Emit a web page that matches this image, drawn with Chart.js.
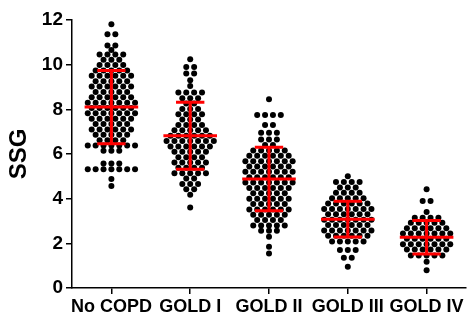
<!DOCTYPE html>
<html>
<head>
<meta charset="utf-8">
<script src="https://cdn.jsdelivr.net/npm/chart.js@4/dist/chart.umd.min.js"></script>
<style>
  html, body { margin: 0; padding: 0; background: #fff; }
</style>
</head>
<body>
<canvas id="c" width="470" height="320"></canvas>
<script>
// Stage groups on the x axis
const groups = ['No COPD', 'GOLD I', 'GOLD II', 'GOLD III', 'GOLD IV'];

// Individual SSG values per stage
const noCopd = [
  11.81,
  11.36, 11.36,
  10.86, 10.86,
  10.66,
  10.46, 10.46, 10.46, 10.46,
  10.22, 10.22, 10.22,
  9.98, 9.98, 9.98, 9.98,
  9.74, 9.74, 9.74, 9.74, 9.74,
  9.5, 9.5, 9.5, 9.5, 9.5, 9.5,
  9.26, 9.26, 9.26, 9.26, 9.26,
  9.02, 9.02, 9.02, 9.02, 9.02, 9.02,
  8.78, 8.78, 8.78, 8.78, 8.78,
  8.54, 8.54, 8.54, 8.54, 8.54, 8.54,
  8.3, 8.3, 8.3, 8.3, 8.3, 8.3, 8.3,
  8.06, 8.06, 8.06, 8.06, 8.06, 8.06,
  7.82, 7.82, 7.82, 7.82, 7.82, 7.82, 7.82,
  7.58, 7.58, 7.58, 7.58, 7.58, 7.58,
  7.34, 7.34, 7.34, 7.34, 7.34,
  7.1, 7.1, 7.1, 7.1, 7.1, 7.1,
  6.86, 6.86, 6.86, 6.86, 6.86,
  6.62, 6.62, 6.62, 6.62,
  6.38, 6.38, 6.38, 6.38, 6.38, 6.38, 6.38,
  6.14, 6.14, 6.14,
  5.58, 5.58, 5.58,
  5.32, 5.32, 5.32, 5.32, 5.32, 5.32, 5.32,
  4.88,
  4.57
];
const goldI = [
  10.24,
  9.9, 9.9,
  9.6, 9.6,
  9.3,
  9.05,
  8.75, 8.75, 8.75, 8.75,
  8.5, 8.5, 8.5,
  8.26, 8.26,
  8.02, 8.02, 8.02,
  7.78, 7.78, 7.78, 7.78,
  7.54, 7.54, 7.54,
  7.3, 7.3, 7.3, 7.3,
  7.06, 7.06, 7.06, 7.06, 7.06,
  6.82, 6.82, 6.82, 6.82, 6.82, 6.82,
  6.58, 6.58, 6.58, 6.58, 6.58, 6.58, 6.58,
  6.34, 6.34, 6.34, 6.34, 6.34, 6.34,
  6.1, 6.1, 6.1, 6.1, 6.1,
  5.86, 5.86, 5.86, 5.86,
  5.62, 5.62, 5.62, 5.62, 5.62,
  5.38, 5.38, 5.38, 5.38,
  5.14, 5.14, 5.14, 5.14, 5.14,
  4.9, 4.9,
  4.66, 4.66, 4.66,
  4.42, 4.42,
  4.18,
  3.6
];
const goldII = [
  8.45,
  7.75, 7.75, 7.75, 7.75,
  7.3, 7.3,
  6.95, 6.95, 6.95,
  6.65, 6.65, 6.65,
  6.4, 6.4,
  6.16, 6.16, 6.16, 6.16, 6.16,
  5.92, 5.92, 5.92, 5.92, 5.92, 5.92,
  5.68, 5.68, 5.68, 5.68, 5.68, 5.68, 5.68,
  5.44, 5.44, 5.44, 5.44, 5.44, 5.44,
  5.2, 5.2, 5.2, 5.2, 5.2, 5.2, 5.2,
  4.96, 4.96, 4.96, 4.96, 4.96, 4.96,
  4.72, 4.72, 4.72, 4.72, 4.72, 4.72, 4.72,
  4.48, 4.48, 4.48, 4.48, 4.48, 4.48,
  4.24, 4.24, 4.24, 4.24, 4.24,
  4.0, 4.0, 4.0, 4.0, 4.0, 4.0,
  3.76, 3.76, 3.76, 3.76, 3.76,
  3.52, 3.52, 3.52, 3.52, 3.52, 3.52,
  3.28, 3.28, 3.28, 3.28, 3.28,
  3.04, 3.04, 3.04, 3.04,
  2.8, 2.8, 2.8, 2.8, 2.8,
  2.56, 2.56, 2.56,
  2.3,
  1.85,
  1.55
];
const goldIII = [
  5.0,
  4.75, 4.75, 4.75, 4.75,
  4.5, 4.5, 4.5,
  4.26, 4.26, 4.26, 4.26,
  4.02, 4.02, 4.02, 4.02, 4.02,
  3.78, 3.78, 3.78, 3.78, 3.78, 3.78,
  3.54, 3.54, 3.54, 3.54, 3.54, 3.54, 3.54,
  3.3, 3.3, 3.3, 3.3, 3.3, 3.3,
  3.06, 3.06, 3.06, 3.06, 3.06, 3.06, 3.06,
  2.82, 2.82, 2.82, 2.82, 2.82, 2.82,
  2.58, 2.58, 2.58, 2.58, 2.58, 2.58, 2.58,
  2.34, 2.34, 2.34, 2.34, 2.34, 2.34,
  2.08, 2.08, 2.08, 2.08, 2.08,
  1.7, 1.7, 1.7,
  1.35, 1.35,
  0.95
];
const goldIV = [
  4.42,
  3.9, 3.9,
  3.4,
  3.15, 3.15, 3.15, 3.15,
  2.92, 2.92, 2.92, 2.92, 2.92,
  2.68, 2.68, 2.68, 2.68, 2.68, 2.68,
  2.44, 2.44, 2.44, 2.44, 2.44, 2.44, 2.44,
  2.2, 2.2, 2.2, 2.2, 2.2, 2.2,
  1.96, 1.96, 1.96, 1.96, 1.96, 1.96, 1.96,
  1.72, 1.72, 1.72, 1.72, 1.72, 1.72,
  1.45, 1.45, 1.45, 1.45, 1.45,
  1.18,
  0.8
];

// Mean and standard deviation per stage
const means = [8.1, 6.82, 4.88, 3.08, 2.27];
const sds = [1.64, 1.5, 1.42, 0.8, 0.75];

// Y axis tick values
const yTicks = [0, 2, 4, 6, 8, 10, 12];

const seriesByGroup = [noCopd, goldI, goldII, goldIII, goldIV];

// Horizontal distance between neighbouring dots with equal values (category units)
const DOT_GAP = 0.1;
const MEAN_HALF = 0.34;
const CAP_HALF = 0.18;

// Spread equal values sideways, centred on the group position
function swarm(values, index) {
  const rows = new Map();
  values.forEach(v => {
    const key = Math.round(v * 100);
    if (!rows.has(key)) rows.set(key, []);
    rows.get(key).push(v);
  });
  const pts = [];
  rows.forEach(row => {
    const n = row.length;
    row.forEach((v, j) => pts.push({ x: index + (j - (n - 1) / 2) * DOT_GAP, y: v }));
  });
  return pts;
}

// Mean line, SD whisker and caps as broken line segments
function errorBars() {
  const gap = { x: null, y: null };
  const pts = [];
  means.forEach((m, i) => {
    const lo = m - sds[i], hi = m + sds[i];
    pts.push({ x: i - MEAN_HALF, y: m }, { x: i + MEAN_HALF, y: m }, gap);
    pts.push({ x: i - CAP_HALF, y: hi }, { x: i + CAP_HALF, y: hi }, gap);
    pts.push({ x: i - CAP_HALF, y: lo }, { x: i + CAP_HALF, y: lo }, gap);
    pts.push({ x: i, y: lo }, { x: i, y: hi }, gap);
  });
  return pts;
}

const dots = [];
seriesByGroup.forEach((vals, i) => dots.push(...swarm(vals, i)));

Chart.defaults.font.family = '"Liberation Sans", Arial, sans-serif';
Chart.defaults.color = '#000';

const axisGrid = {
  display: true,
  drawOnChartArea: false,
  drawTicks: true,
  tickLength: 6,
  color: '#000',
  lineWidth: 1.5
};
const axisBorder = { display: true, color: '#000', width: 1.5 };

new Chart(document.getElementById('c'), {
  type: 'scatter',
  data: {
    datasets: [
      {
        label: 'Mean ± SD',
        data: errorBars(),
        showLine: true,
        spanGaps: false,
        borderColor: '#ff0000',
        borderWidth: 3,
        borderCapStyle: 'butt',
        pointRadius: 0,
        order: 0
      },
      {
        label: 'SSG',
        data: dots,
        pointRadius: 3,
        pointBackgroundColor: '#000',
        pointBorderWidth: 0,
        order: 1
      }
    ]
  },
  options: {
    responsive: false,
    devicePixelRatio: 1,
    animation: false,
    layout: { padding: { top: 20, right: 0, left: 0, bottom: 0 } },
    plugins: { legend: { display: false }, tooltip: { enabled: false } },
    scales: {
      x: {
        type: 'linear',
        min: -0.5,
        max: 4.5,
        afterBuildTicks: s => { s.ticks = groups.map((_, i) => ({ value: i })); },
        afterFit: s => { s.height = 32; },
        ticks: {
          callback: v => groups[v],
          font: { weight: 'bold', size: 18 },
          color: '#000',
          padding: 2,
          maxRotation: 0,
          autoSkip: false
        },
        grid: axisGrid,
        border: axisBorder
      },
      y: {
        min: 0,
        max: 12,
        afterBuildTicks: s => { s.ticks = yTicks.map(v => ({ value: v })); },
        afterFit: s => { s.width = 72; },
        ticks: {
          font: { weight: 'bold', size: 19 },
          color: '#000',
          padding: 3
        },
        grid: axisGrid,
        border: axisBorder,
        title: {
          display: true,
          text: 'SSG',
          font: { weight: 'bold', size: 24 },
          color: '#000',
          padding: { top: 5, bottom: 0 }
        }
      }
    }
  }
});
</script>
</body>
</html>
